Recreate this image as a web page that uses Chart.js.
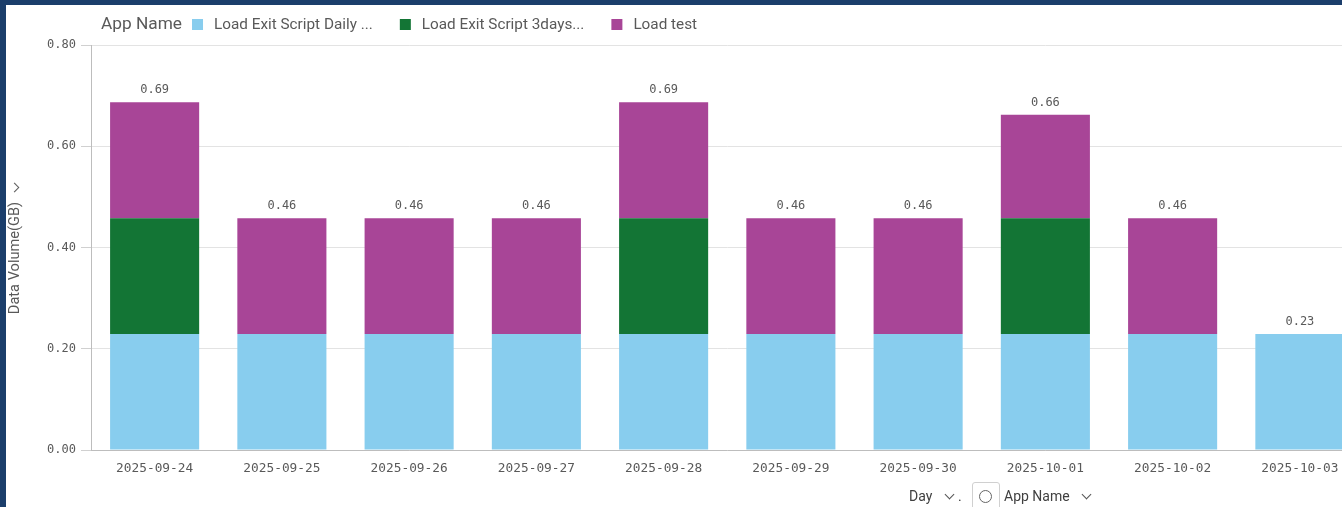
<!DOCTYPE html>
<html><head><meta charset="utf-8">
<script src="https://cdn.jsdelivr.net/npm/chart.js@4"></script>
<style>
html,body{margin:0;padding:0;width:1342px;height:507px;overflow:hidden;background:#1b3e6b;font-family:Roboto,"Noto Sans",sans-serif;}
#wrap{position:absolute;left:6px;top:5px;width:1380px;height:502px;background:#fff;}
canvas{display:block}
.chev{position:absolute;width:6px;height:6px;border-right:1.5px solid #555;border-bottom:1.5px solid #555;}
.ctl{position:absolute;font-size:14px;color:#404040;white-space:nowrap;}
#sbox{position:absolute;left:972px;top:482px;width:26px;height:30px;border:1px solid #d0d0d0;border-radius:3px;background:#fff;}
#sicon{position:absolute;left:6px;top:7px;width:11px;height:11px;border:1.5px solid #666;border-radius:50%;}
</style></head>
<body>
<div id="wrap"><canvas id="c" width="1380" height="502"></canvas></div>
<div class="chev" style="left:11px;top:184px;transform:rotate(-45deg);"></div>
<div class="ctl" style="left:909px;top:488px;">Day</div>
<div class="chev" style="left:946px;top:491px;transform:rotate(45deg);"></div>
<div class="ctl" style="left:958px;top:488px;">.</div>
<div id="sbox"><div id="sicon"></div></div>
<div class="ctl" style="left:1004px;top:488px;">App Name</div>
<div class="chev" style="left:1083px;top:491px;transform:rotate(45deg);"></div>
<script>
const legendTitle = 'App Name';
const yAxisTitle = 'Data Volume(GB)';
const categories = ['2025-09-24','2025-09-25','2025-09-26','2025-09-27','2025-09-28','2025-09-29','2025-09-30','2025-10-01','2025-10-02','2025-10-03'];
const seriesNames = ['Load Exit Script Daily ...','Load Exit Script 3days...','Load test'];
const dailyValues = [0.229,0.229,0.229,0.229,0.229,0.229,0.229,0.229,0.229,0.229];
const threeDayValues = [0.229,0,0,0,0.229,0,0,0.229,0,0];
const loadTestValues = [0.229,0.229,0.229,0.229,0.229,0.229,0.229,0.204,0.229,0];
const yTicks = [0,0.2,0.4,0.6,0.8];
const colors = ['#88cdee','#137535','#a84597'];

const mono = '"DejaVu Sans Mono", "Liberation Mono", monospace';
const sans = 'Roboto, "Noto Sans", sans-serif';

const legendPlugin = {
  id:'qlegend',
  afterDraw(chart){
    const ctx = chart.ctx;
    ctx.save();
    ctx.textBaseline = 'alphabetic';
    ctx.fillStyle = '#595959';
    ctx.font = '17.3px ' + sans;
    let x = 95;
    const base = 24;
    ctx.fillText(legendTitle, x, base);
    x += ctx.measureText(legendTitle).width + 10;
    ctx.font = '15.3px ' + sans;
    chart.data.datasets.forEach((ds) => {
      ctx.fillStyle = ds.backgroundColor;
      ctx.fillRect(x, 14, 11, 11);
      x += 22;
      ctx.fillStyle = '#595959';
      ctx.fillText(ds.label, x, base);
      x += ctx.measureText(ds.label).width + 27;
    });
    // y axis title
    ctx.translate(9, 253);
    ctx.rotate(-Math.PI/2);
    ctx.font = '14.6px ' + sans;
    ctx.textAlign = 'center';
    ctx.textBaseline = 'middle';
    ctx.fillText(yAxisTitle, 0, 0);
    ctx.restore();
  }
};

const totalsPlugin = {
  id:'totals',
  afterDatasetsDraw(chart){
    const ctx = chart.ctx;
    const xs = chart.scales.x, ys = chart.scales.y;
    ctx.save();
    ctx.font = '12px ' + mono;
    ctx.fillStyle = '#595959';
    ctx.textAlign = 'center';
    ctx.textBaseline = 'bottom';
    categories.forEach((c, i) => {
      const t = chart.data.datasets.reduce((s, ds) => s + ds.data[i], 0);
      ctx.fillText(t.toFixed(2), xs.getPixelForValue(i), ys.getPixelForValue(t) - 6);
    });
    ctx.restore();
  }
};

new Chart(document.getElementById('c'), {
  type:'bar',
  data:{
    labels: categories,
    datasets:[
      {label: seriesNames[0], data: dailyValues, backgroundColor: colors[0]},
      {label: seriesNames[1], data: threeDayValues, backgroundColor: colors[1]},
      {label: seriesNames[2], data: loadTestValues, backgroundColor: colors[2]}
    ]
  },
  options:{
    responsive:false,
    animation:false,
    devicePixelRatio:1,
    categoryPercentage:1,
    barPercentage:0.7,
    layout:{padding:{top:40,right:22.5,bottom:0,left:0}},
    plugins:{legend:{display:false}, tooltip:{enabled:false}},
    scales:{
      x:{
        stacked:true,
        grid:{display:false, drawTicks:false},
        border:{display:true, color:'#bdbdbd', width:1},
        ticks:{font:{family:mono, size:12.8}, color:'#595959', padding:11, maxRotation:0, autoSkip:false},
        afterFit(s){ s.height = 57; }
      },
      y:{
        stacked:true,
        min:0, max:0.8,
        afterBuildTicks(s){ s.ticks = yTicks.map(v => ({value:v})); },
        grid:{color:'#e3e3e3', tickLength:10, tickColor:'#d0d0d0'},
        border:{display:true, color:'#bdbdbd', width:1},
        ticks:{font:{family:mono, size:12}, color:'#595959', padding:5, callback:(v)=>Number(v).toFixed(2)},
        afterFit(s){ s.width = 85; }
      }
    }
  },
  plugins:[legendPlugin, totalsPlugin]
});
</script>
</body></html>
